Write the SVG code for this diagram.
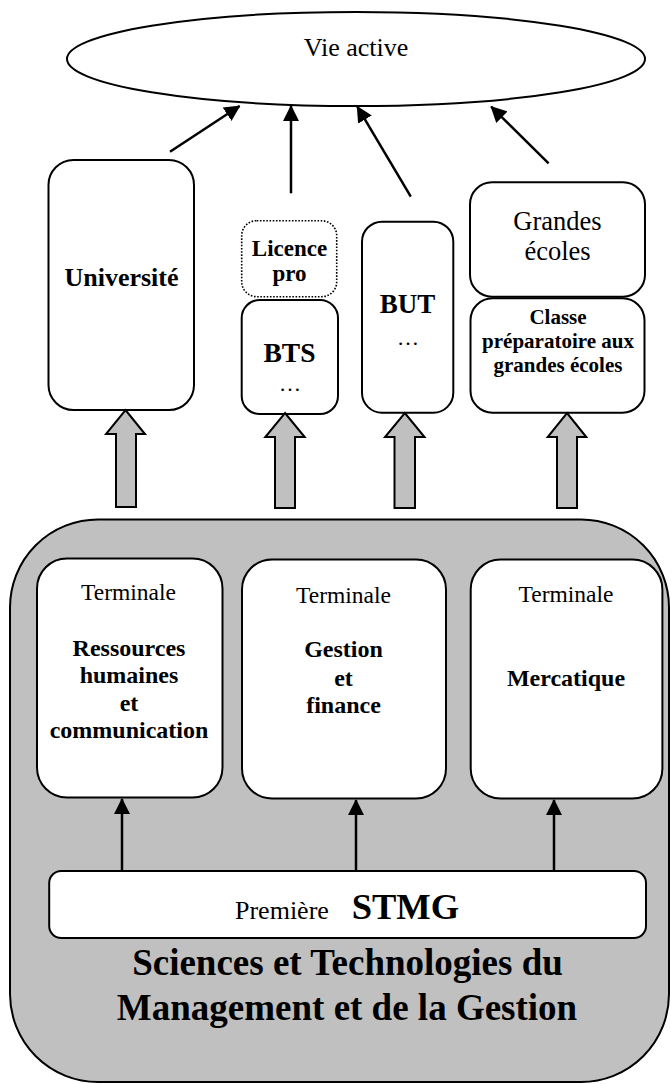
<svg xmlns="http://www.w3.org/2000/svg" width="671" height="1084" viewBox="0 0 671 1084">
<style>
text{fill:#000;text-anchor:middle}
.b{font-weight:bold}
.box{fill:#fff;stroke:#000;stroke-width:2}
.dot{fill:#fff;stroke:#000;stroke-width:1.6;stroke-dasharray:1.6 1.6}
.blk{fill:#c0c0c0;stroke:#000;stroke-width:2;stroke-linejoin:miter}
.ln{stroke:#000;stroke-width:2.5;fill:none;marker-end:url(#ah)}
</style>
<defs>
<marker id="ah" viewBox="0 0 16 16" refX="15" refY="8" markerWidth="6.4" markerHeight="6.4" orient="auto" markerUnits="strokeWidth">
<path d="M0,0 L16,8 L0,16 Z" fill="#000"/>
</marker>
</defs>
<g font-family="Liberation Serif, DejaVu Serif, serif">

<g id="stmg">
<rect x="10" y="519.5" width="659" height="562.5" rx="88" ry="88" fill="#c0c0c0" stroke="#000" stroke-width="2"/>
<text class="b" x="347.5" y="975" font-size="37">Sciences et Technologies du</text>
<text class="b" x="347" y="1019.5" font-size="37">Management et de la Gestion</text>
</g>

<g id="vie-active">
<ellipse cx="356" cy="59" rx="289" ry="47" fill="#fff" stroke="#000" stroke-width="2"/>
<text x="356" y="55.5" font-size="26">Vie active</text>
</g>

<g id="universite">
<rect class="box" x="48.5" y="160" width="145.5" height="250" rx="25"/>
<text class="b" x="121.5" y="286" font-size="26">Université</text>
</g>

<g id="licence-pro">
<rect class="dot" x="241.7" y="220.7" width="95" height="76" rx="15"/>
<text class="b" x="289.5" y="256" font-size="23">Licence</text>
<text class="b" x="289.5" y="281" font-size="23">pro</text>
</g>

<g id="bts">
<rect class="box" x="241.7" y="300" width="96.3" height="114" rx="18"/>
<text class="b" x="289.5" y="361.5" font-size="27.5">BTS</text>
<text x="290" y="391" font-size="22">…</text>
</g>

<g id="but">
<rect class="box" x="362" y="221.7" width="91.3" height="191" rx="20"/>
<text class="b" x="407.5" y="313" font-size="27">BUT</text>
<text x="408" y="345" font-size="22">…</text>
</g>

<g id="grandes-ecoles">
<rect class="box" x="470" y="182.3" width="175" height="114.4" rx="22"/>
<text x="557.5" y="230" font-size="26.5">Grandes</text>
<text x="557.5" y="260" font-size="26.5">écoles</text>
</g>

<g id="classe-prepa">
<rect class="box" x="470.5" y="298.3" width="174" height="114.4" rx="22"/>
<text class="b" x="558" y="324" font-size="21">Classe</text>
<text class="b" x="558" y="347.5" font-size="21">préparatoire aux</text>
<text class="b" x="558" y="371.5" font-size="21">grandes écoles</text>
</g>

<g id="terminale-rhc">
<rect class="box" x="37" y="558.5" width="185.5" height="239" rx="30"/>
<text x="128.5" y="600" font-size="23.5">Terminale</text>
<text class="b" x="129" y="656" font-size="24">Ressources</text>
<text class="b" x="129" y="683.3" font-size="24">humaines</text>
<text class="b" x="129" y="710.7" font-size="24">et</text>
<text class="b" x="129" y="738.3" font-size="24">communication</text>
</g>

<g id="terminale-gf">
<rect class="box" x="242" y="559.5" width="204" height="239" rx="30"/>
<text x="343.5" y="602.5" font-size="23.5">Terminale</text>
<text class="b" x="343.5" y="657" font-size="24">Gestion</text>
<text class="b" x="343.5" y="685.5" font-size="24">et</text>
<text class="b" x="343.5" y="713" font-size="24">finance</text>
</g>

<g id="terminale-m">
<rect class="box" x="470.7" y="559.5" width="191.7" height="239" rx="30"/>
<text x="566" y="601.7" font-size="23.5">Terminale</text>
<text class="b" x="566" y="685.7" font-size="24">Mercatique</text>
</g>

<g id="premiere">
<rect class="box" x="49.2" y="871" width="596.8" height="67" rx="12"/>
<text x="235" y="919.3" font-size="26" style="text-anchor:start">Première</text>
<text class="b" x="351.7" y="919.3" font-size="36.5" style="text-anchor:start">STMG</text>
</g>

</g>
<g id="connectors">
<line class="ln" x1="170" y1="151.7" x2="239.6" y2="106"/>
<line class="ln" x1="291" y1="193.3" x2="291" y2="106"/>
<line class="ln" x1="410.8" y1="196.7" x2="357.3" y2="106.7"/>
<line class="ln" x1="548.6" y1="163.3" x2="491.2" y2="106.7"/>
<path class="blk" d="M125.5,410 L145,434 L136,434 L136,507 L116,507 L116,434 L106,434 Z"/>
<path class="blk" d="M285,413 L304.7,437 L295,437 L295,508 L275,508 L275,437 L265.3,437 Z"/>
<path class="blk" d="M404.8,413 L424.5,437 L415,437 L415,508 L394.5,508 L394.5,437 L385,437 Z"/>
<path class="blk" d="M567,413 L586.3,437 L577,437 L577,508 L557,508 L557,437 L547.7,437 Z"/>
<line class="ln" x1="122" y1="871" x2="122" y2="799"/>
<line class="ln" x1="356" y1="871" x2="356" y2="800"/>
<line class="ln" x1="554" y1="871" x2="554" y2="800"/>
</g>
</svg>
